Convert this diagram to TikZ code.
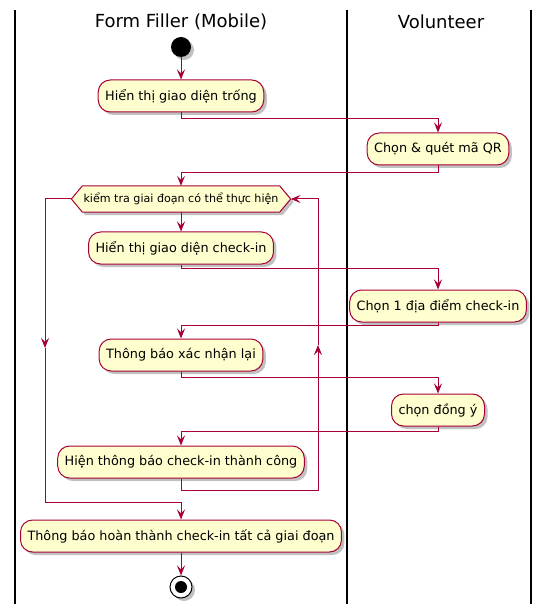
\documentclass[tikz,border=0pt]{standalone}
\usepackage{fontspec}
\setmainfont{DejaVu Sans}
\usetikzlibrary{arrows.meta,shadows,calc}
\definecolor{pumlred}{HTML}{A80036}
\definecolor{pumlfill}{HTML}{FEFECE}
\begin{document}
\begin{tikzpicture}[x=1pt,y=-1pt,
  shd/.style={drop shadow={shadow xshift=3pt,shadow yshift=-3pt,opacity=0.35,fill=black!70}},
  act/.style={rectangle,rounded corners=12pt,draw=pumlred,fill=pumlfill,line width=1pt,
    minimum height=32pt,inner xsep=7pt,font=\fontsize{12.8}{15}\selectfont,shd},
  hextext/.style={rectangle,minimum height=26pt,inner xsep=12pt,inner ysep=0pt,
    font=\fontsize{11.1}{13}\selectfont},
  hexshape/.style={draw=pumlred,fill=pumlfill,line width=1pt,shd},
  flow/.style={draw=pumlred,line width=1pt,-{Stealth[length=10pt,width=8pt,inset=4pt]}},
  lane/.style={draw=black,line width=1.5pt},
  title/.style={font=\fontsize{18}{21}\selectfont},
  startdot/.style={circle,fill=black,minimum size=20pt,inner sep=0pt,shd},
  endring/.style={circle,draw=black,fill=white,line width=1pt,minimum size=22pt,inner sep=0pt,shd}
]
\useasboundingbox (0,0) rectangle (549,609);
% lanes
\coordinate (l1t) at (15,10); \coordinate (l1b) at (15,604);
\coordinate (l2t) at (347,10); \coordinate (l2b) at (347,604);
\coordinate (l3t) at (531,10); \coordinate (l3b) at (531,604);
\draw[lane] (l1t) -- (l1b);
\draw[lane] (l2t) -- (l2b);
\draw[lane] (l3t) -- (l3b);
\node[title] (t1) at (181,22) {Form Filler (Mobile)};
\node[title] (t2) at (441,22) {Volunteer};
% nodes
\node[startdot] (start) at (181,47) {};
\node[act] (b1) at (181,96) {Hiển thị giao diện trống};
\node[act] (b2) at (438,149) {Chọn \& quét mã QR};
\node[hextext] (d) at (181,199) {kiểm tra giai đoạn có thể thực hiện};
\path[hexshape] (d.west) -- ([xshift=11pt]d.north west) -- ([xshift=-11pt]d.north east)
  -- (d.east) -- ([xshift=-11pt]d.south east) -- ([xshift=11pt]d.south west) -- cycle;
\node[hextext] at (d) {kiểm tra giai đoạn có thể thực hiện};
\node[act] (b3) at (181,248) {Hiển thị giao diện check-in};
\node[act] (b4) at (438,306) {Chọn 1 địa điểm check-in};
\node[act] (b5) at (181,355) {Thông báo xác nhận lại};
\node[act] (b6) at (438,410) {chọn đồng ý};
\node[act] (b7) at (181,462) {Hiện thông báo check-in thành công};
\node[act] (b8) at (181,536) {Thông báo hoàn thành check-in tất cả giai đoạn};
\node[endring] (end) at (181,587) {};
\fill[black] (end.center) circle (6);
% connectors
\draw[flow] (start) -- (b1);
\draw[flow] (b1.south) -- ++(0,6) -| (b2.north);
\draw[flow] (b2.south) -- ++(0,7) -| (d.north);
\draw[flow] (d.south) -- (b3.north);
\draw[flow] (b3.south) -- ++(0,4) -| (b4.north);
\draw[flow] (b4.south) -- ++(0,3) -| (b5.north);
\draw[flow] (b5.south) -- ++(0,6) -| (b6.north);
\draw[flow] (b6.south) -- ++(0,5) -| (b7.north);
% repeat loop (right)
\coordinate (rU) at (318,345);
\draw[flow] (b7.south) -- ++(0,12) -| (rU);
\draw[flow] (rU) |- (d.east);
% exit (left)
\coordinate (lD) at (45,348);
\coordinate (lB) at (45,502);
\draw[flow] (d.west) -| (lD);
\draw[flow] (lD) -- (lB) -| (b8.north);
\draw[flow] (b8.south) -- (end.north);
\end{tikzpicture}
\end{document}
